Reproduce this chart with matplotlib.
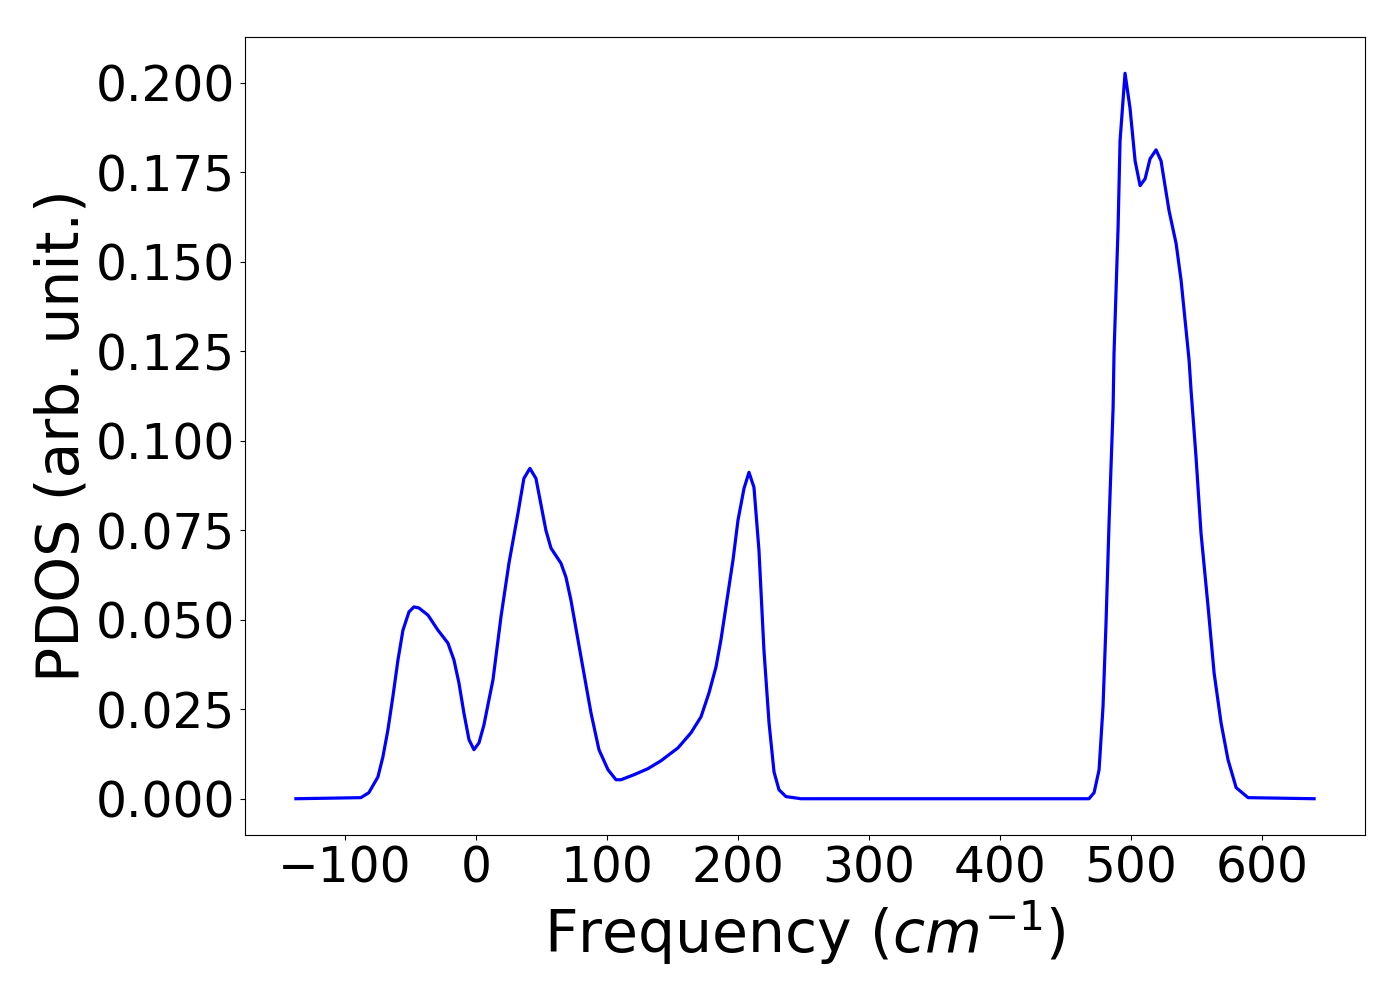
import matplotlib
matplotlib.use('Agg')
import matplotlib.pyplot as plt
import numpy as np

### Data
freq = [-137.4, -87.8, -81.7, -74.8, -71.0, -67.2, -63.4, -59.5, -55.7, -51.1,
        -47.3, -43.5, -36.6, -29.0, -21.4, -16.8, -13.0, -9.2, -5.3, -1.5,
        2.3, 6.1, 9.9, 13.0, 19.1, 25.2, 32.1, 36.6, 41.2, 45.8,
        53.4, 57.3, 64.9, 68.7, 72.5, 80.2, 87.8, 93.9, 100.8, 106.9,
        110.7, 120.6, 131.3, 141.2, 154.2, 164.1, 171.8, 177.9, 183.2, 187.0,
        190.8, 196.2, 200.0, 204.6, 208.4, 212.2, 216.0, 219.8, 223.7, 227.5,
        231.3, 236.6, 248.1, 467.9, 471.8, 475.6, 478.6, 480.9, 483.2, 486.3,
        487.0, 490.1, 491.6, 495.4, 499.2, 503.1, 506.9, 510.7, 514.5, 519.1,
        522.9, 529.0, 534.4, 538.2, 544.3, 545.8, 549.6, 553.4, 558.8, 563.4,
        568.7, 574.0, 580.2, 589.3, 639.7]
pdos = [0.0, 0.0003, 0.0017, 0.0061, 0.0117, 0.0192, 0.0285, 0.0388, 0.0471, 0.0522,
        0.0536, 0.0533, 0.0513, 0.0471, 0.0435, 0.0388, 0.0324, 0.0240, 0.0165, 0.0137,
        0.0156, 0.0206, 0.0276, 0.0332, 0.0508, 0.0658, 0.0798, 0.0895, 0.0923, 0.0895,
        0.0750, 0.0700, 0.0658, 0.0619, 0.0555, 0.0396, 0.0240, 0.0137, 0.0081, 0.0053,
        0.0053, 0.0067, 0.0084, 0.0106, 0.0142, 0.0184, 0.0229, 0.0296, 0.0368, 0.0444,
        0.0536, 0.0667, 0.0778, 0.0867, 0.0912, 0.0870, 0.0695, 0.0416, 0.0212, 0.0075,
        0.0025, 0.0006, 0.0, 0.0, 0.0017, 0.0081, 0.0257, 0.0491, 0.0770, 0.1093,
        0.1244, 0.1596, 0.1838, 0.2027, 0.1930, 0.1782, 0.1713, 0.1732, 0.1788, 0.1813,
        0.1782, 0.1643, 0.1551, 0.1448, 0.1225, 0.1141, 0.0954, 0.0742, 0.0536, 0.0351,
        0.0212, 0.0109, 0.0031, 0.0003, 0.0]
xticks = [-100, 0, 100, 200, 300, 400, 500, 600]
yticks = [0.0, 0.025, 0.05, 0.075, 0.1, 0.125, 0.15, 0.175, 0.2]
###

fig = plt.figure(figsize=(14, 10), dpi=100)
ax = fig.gca()
fig.subplots_adjust(left=0.175, right=0.975, bottom=0.165, top=0.963)
ax.plot(freq, pdos, color='blue', linewidth=2.3)
ax.set_xticks(xticks)
ax.set_yticks(yticks)
ax.set_yticklabels(["%.3f" % y for y in yticks])
ax.tick_params(labelsize=35)
ax.set_xlabel(r"Frequency ($cm^{-1}$)", fontsize=42)
ax.set_ylabel("PDOS (arb. unit.)", fontsize=42)
plt.savefig("out.png")
